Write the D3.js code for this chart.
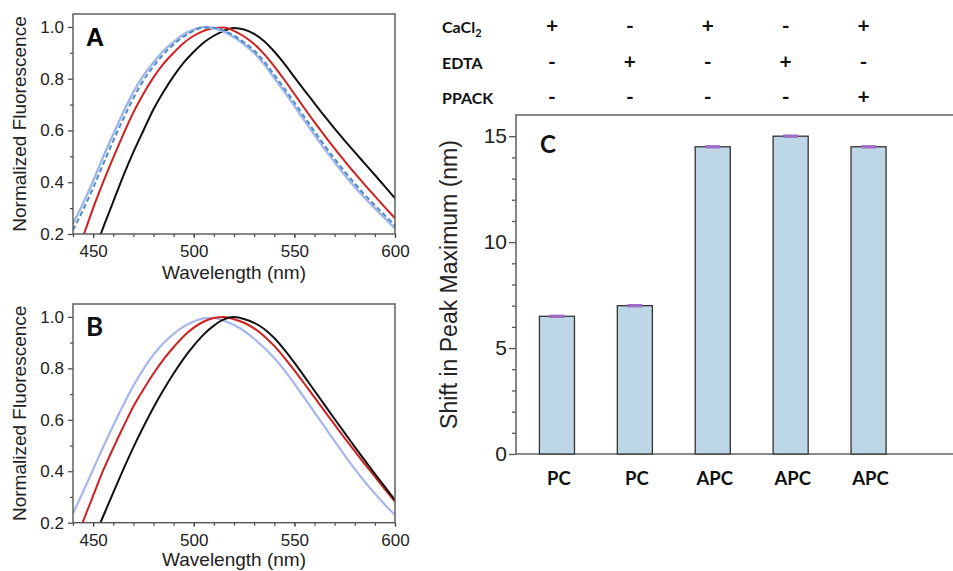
<!DOCTYPE html>
<meta charset="utf-8">
<script src="https://d3js.org/d3.v7.min.js"></script>
<style>
  body { margin: 0; background: #fff; }
  svg { display: block; font-family: 'Liberation Sans', Arial, sans-serif; }
  .tick text { fill: #222; }
  .humanist { font-family: Lato, 'Open Sans', sans-serif; font-weight: 700; fill: #111; }
</style>
<div id="chart"></div>
<script>

var wavelengths = [440, 445, 450, 455, 460, 465, 470, 475, 480, 485, 490, 495, 500, 505, 510, 515, 520,
                   525, 530, 535, 540, 545, 550, 555, 560, 565, 570, 575, 580, 585, 590, 595, 600];

var aBlack  = [0.00, 0.05, 0.125, 0.225, 0.325, 0.425, 0.516, 0.600, 0.682, 0.750, 0.810, 0.862, 0.904, 0.940, 0.966, 0.985, 0.996,
               0.990, 0.973, 0.945, 0.905, 0.858, 0.806, 0.755, 0.705, 0.655, 0.607, 0.561, 0.516, 0.472, 0.428, 0.383, 0.338];
var aRed    = [0.09, 0.19, 0.300, 0.400, 0.495, 0.585, 0.670, 0.742, 0.805, 0.858, 0.900, 0.938, 0.966, 0.985, 0.996, 0.998, 0.985,
               0.963, 0.934, 0.895, 0.848, 0.796, 0.741, 0.686, 0.632, 0.580, 0.530, 0.482, 0.435, 0.390, 0.346, 0.303, 0.261];
var aBlue   = [0.241, 0.318, 0.405, 0.498, 0.585, 0.670, 0.748, 0.812, 0.863, 0.908, 0.942, 0.972, 0.990, 1.000, 0.995, 0.982, 0.960,
               0.933, 0.900, 0.856, 0.803, 0.750, 0.695, 0.638, 0.583, 0.529, 0.477, 0.428, 0.382, 0.339, 0.299, 0.260, 0.222];
var aDashed = [0.215, 0.293, 0.378, 0.470, 0.560, 0.645, 0.725, 0.793, 0.848, 0.895, 0.932, 0.963, 0.985, 0.998, 0.997, 0.986, 0.966,
               0.940, 0.909, 0.866, 0.815, 0.763, 0.708, 0.652, 0.596, 0.542, 0.490, 0.441, 0.395, 0.351, 0.311, 0.272, 0.233];

var bBlack  = [0.00, 0.06, 0.135, 0.225, 0.317, 0.407, 0.493, 0.573, 0.648, 0.717, 0.780, 0.838, 0.888, 0.932, 0.966, 0.990, 0.999,
               0.992, 0.977, 0.953, 0.918, 0.873, 0.822, 0.768, 0.713, 0.658, 0.603, 0.549, 0.495, 0.442, 0.390, 0.339, 0.288];
var bRed    = [0.10, 0.205, 0.305, 0.403, 0.490, 0.573, 0.652, 0.718, 0.780, 0.835, 0.882, 0.925, 0.958, 0.982, 0.996, 0.999, 0.991,
               0.977, 0.955, 0.925, 0.887, 0.842, 0.792, 0.740, 0.687, 0.634, 0.581, 0.529, 0.478, 0.428, 0.379, 0.330, 0.282];
var bBlue   = [0.236, 0.320, 0.407, 0.494, 0.578, 0.657, 0.732, 0.797, 0.853, 0.898, 0.934, 0.962, 0.982, 0.994, 0.996, 0.985, 0.968,
               0.945, 0.915, 0.880, 0.840, 0.793, 0.740, 0.685, 0.629, 0.573, 0.517, 0.462, 0.409, 0.359, 0.313, 0.270, 0.230];

// panel C
var samples  = ["PC", "PC", "APC", "APC", "APC"];
var shift    = [6.5, 7.0, 14.5, 15.0, 14.5];
var shiftErr = [0.08, 0.08, 0.08, 0.08, 0.08];
var reagents = ["CaCl2", "EDTA", "PPACK"];
var cacl2 = ["+", "-", "+", "-", "+"];
var edta  = ["-", "+", "-", "+", "-"];
var ppack = ["-", "-", "-", "-", "+"];

var svg = d3.select("#chart").append("svg")
    .attr("width", 953)
    .attr("height", 571);

var x = d3.scaleLinear().domain([440, 600]).range([73, 395]);

function spectrumPanel(id, top, bottom, letter, letterFont, labelY, series) {
  var y = d3.scaleLinear().domain([0.2, 1.05]).range([bottom, top]);
  var g = svg.append("g");

  g.append("clipPath").attr("id", id)
    .append("rect")
      .attr("x", x.range()[0]).attr("y", top)
      .attr("width", x.range()[1] - x.range()[0]).attr("height", bottom - top);

  var line = d3.line()
      .x(function(d, i) { return x(wavelengths[i]); })
      .y(function(d) { return y(d); })
      .curve(d3.curveMonotoneX);

  series.forEach(function(s) {
    g.append("path")
      .attr("clip-path", "url(#" + id + ")")
      .attr("d", line(s.values))
      .attr("fill", "none")
      .attr("stroke", s.color)
      .attr("stroke-width", s.width)
      .attr("stroke-dasharray", s.dash || null);
  });

  // minor ticks
  g.append("g")
      .attr("transform", "translate(0," + bottom + ")")
      .call(d3.axisBottom(x).tickValues(d3.range(440, 601, 10)).tickSize(3).tickFormat(""));
  g.append("g")
      .attr("transform", "translate(0," + bottom + ")")
      .style("font-size", "17px")
      .call(d3.axisBottom(x).tickValues([450, 500, 550, 600]).tickSize(4).tickPadding(7));
  g.append("g")
      .attr("transform", "translate(" + x.range()[0] + ",0)")
      .call(d3.axisLeft(y).tickValues([0.3, 0.5, 0.7, 0.9]).tickSize(3).tickFormat(""));
  g.append("g")
      .attr("transform", "translate(" + x.range()[0] + ",0)")
      .style("font-size", "17px")
      .call(d3.axisLeft(y).tickValues([0.2, 0.4, 0.6, 0.8, 1.0]).tickSize(5).tickPadding(4).tickFormat(d3.format(".1f")));
  g.selectAll(".domain").remove();
  g.selectAll(".tick line").attr("stroke", "#444").attr("stroke-width", 1.2);

  g.append("rect")
      .attr("x", x.range()[0]).attr("y", top)
      .attr("width", x.range()[1] - x.range()[0]).attr("height", bottom - top)
      .attr("fill", "none").attr("stroke", "#555").attr("stroke-width", 1.4);

  g.append("text")
      .attr("x", 86).attr("y", top + 32)
      .attr("class", letterFont === "humanist" ? "humanist" : null)
      .style("font-weight", "bold")
      .style("font-size", letterFont === "humanist" ? "26px" : "25px")
      .text(letter);

  g.append("text")
      .attr("x", (x.range()[0] + x.range()[1]) / 2).attr("y", labelY)
      .style("text-anchor", "middle").style("font-size", "19px").attr("fill", "#222")
      .text("Wavelength (nm)");

  g.append("text")
      .attr("transform", "translate(26," + (top + bottom) / 2 + ") rotate(-90)")
      .style("text-anchor", "middle").style("font-size", "19px").attr("fill", "#222")
      .text("Normalized Fluorescence");
}

spectrumPanel("clipA", 14, 234, "A", "arial", 279, [
  {values: aBlack, color: "#111", width: 2},
  {values: aRed, color: "#d21f1f", width: 2},
  {values: aBlue, color: "#9fb6ea", width: 2.4},
  {values: aDashed, color: "#4e8bcb", width: 2, dash: "5,3"}
]);

spectrumPanel("clipB", 304, 522.7, "B", "humanist", 566, [
  {values: bBlue, color: "#a7b5ee", width: 2.2},
  {values: bRed, color: "#d21f1f", width: 2},
  {values: bBlack, color: "#111", width: 2}
]);

// ---- panel C: peak shift bars ----
var cLeft = 516, cTop = 115, cBottom = 454;
var xb = d3.scaleBand().domain(d3.range(samples.length)).range([518, 907.5])
    .paddingInner(0.55).paddingOuter(0.275);
var yc = d3.scaleLinear().domain([0, 16]).range([cBottom, cTop]);

var c = svg.append("g");

c.append("g")
    .attr("transform", "translate(" + cLeft + ",0)")
    .call(d3.axisLeft(yc).tickValues([1, 2, 3, 4, 6, 7, 8, 9, 11, 12, 13, 14]).tickSize(4).tickFormat(""));
c.append("g")
    .attr("transform", "translate(" + cLeft + ",0)")
    .style("font-size", "21px")
    .call(d3.axisLeft(yc).tickValues([0, 5, 10, 15]).tickSize(7).tickPadding(2));
c.selectAll(".domain").remove();
c.selectAll(".tick line").attr("stroke", "#555").attr("stroke-width", 1.3);

c.append("path")
    .attr("d", "M953," + cTop + "H" + cLeft + "V" + cBottom + "H953")
    .attr("fill", "none").attr("stroke", "#666").attr("stroke-width", 1.6);

c.selectAll(".bar")
  .data(shift)
  .enter().append("rect")
    .attr("class", "bar")
    .attr("x", function(d, i) { return xb(i); })
    .attr("y", function(d) { return yc(d); })
    .attr("width", xb.bandwidth())
    .attr("height", function(d) { return cBottom - yc(d); })
    .attr("fill", "#bdd7e7")
    .attr("stroke", "#333")
    .attr("stroke-width", 1.3);

c.selectAll(".err")
  .data(shift)
  .enter().append("rect")
    .attr("class", "err")
    .attr("x", function(d, i) { return xb(i) + xb.bandwidth() / 2 - 7.5; })
    .attr("y", function(d, i) { return yc(d + shiftErr[i]); })
    .attr("width", 15)
    .attr("height", function(d, i) { return yc(d - shiftErr[i]) - yc(d + shiftErr[i]); })
    .attr("fill", "#9d6cc4");

c.selectAll(".sample")
  .data(samples)
  .enter().append("text")
    .attr("class", "humanist")
    .attr("x", function(d, i) { return xb(i) + xb.bandwidth() / 2 + 2; })
    .attr("y", 485)
    .style("text-anchor", "middle")
    .style("font-size", "18.5px")
    .text(function(d) { return d; });

c.append("text")
    .attr("class", "humanist")
    .attr("x", 540).attr("y", 153)
    .style("font-size", "24px")
    .text("C");

c.append("text")
    .attr("transform", "translate(457," + (cTop + cBottom) / 2 + ") rotate(-90)")
    .style("text-anchor", "middle").style("font-size", "23px").attr("fill", "#222")
    .text("Shift in Peak Maximum (nm)");

// condition table above panel C
var col = d3.scalePoint().domain(d3.range(samples.length)).range([552, 863.5]);
var rowY = [33, 69, 104];
var rows = [cacl2, edta, ppack];

reagents.forEach(function(r, j) {
  var t = c.append("text")
      .attr("class", "humanist")
      .attr("x", 442).attr("y", rowY[j])
      .style("font-size", "16px");
  if (r === "CaCl2") {
    t.append("tspan").text("CaCl");
    t.append("tspan").attr("dy", 4).style("font-size", "11px").text("2");
  } else {
    t.text(r);
  }

  c.selectAll(".sym" + j)
    .data(rows[j])
    .enter().append("text")
      .attr("class", "humanist")
      .attr("x", function(d, i) { return col(i); })
      .attr("y", rowY[j])
      .style("text-anchor", "middle")
      .style("font-size", "21px")
      .text(function(d) { return d; });
});

</script>
